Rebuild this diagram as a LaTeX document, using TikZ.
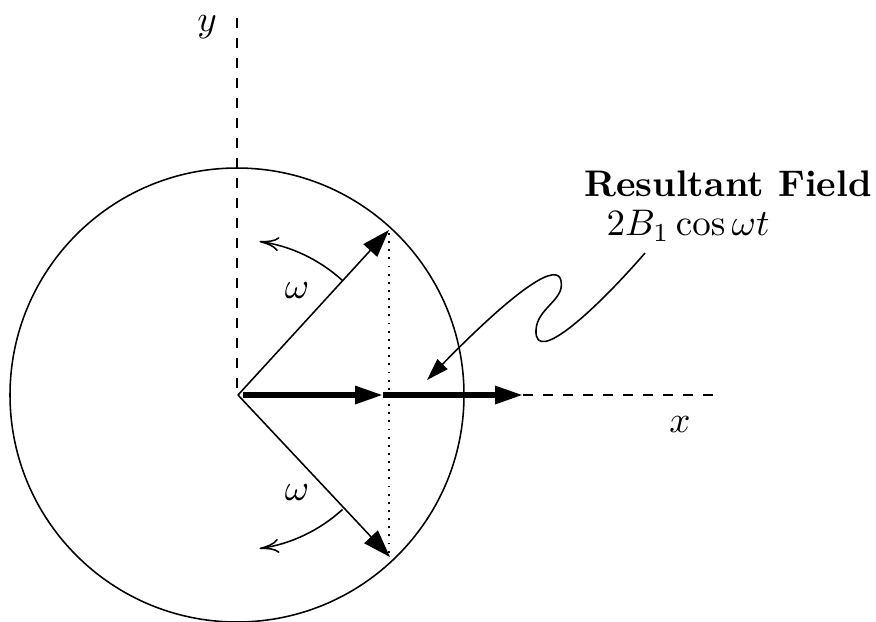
\documentclass[tikz,border=0pt]{standalone}
\usetikzlibrary{arrows.meta}
\begin{document}
\begin{tikzpicture}[x=0.27pt,y=-0.27pt,
  thinline/.style={line width=0.42pt},
  axisline/.style={line width=0.42pt,dash pattern=on 2.7pt off 2.7pt},
  dotline/.style={line width=0.5pt,dash pattern=on 0.5pt off 1.7pt},
  vec/.style={line width=0.42pt,-{Triangle[length=7.5pt,width=5pt]}},
  thickvec/.style={line width=1.5pt,-{Triangle[length=7.5pt,width=4.6pt]}},
  rot/.style={line width=0.42pt,-{Computer Modern Rightarrow[length=5.2pt,width=3.8pt]}},
  lbl/.style={inner sep=0pt}]
\useasboundingbox (0,0) rectangle (876,621);
% key points
\coordinate (O) at (238,395);
\coordinate (Ytop) at (237,18);
\coordinate (Ybot) at (237,392);
\coordinate (A) at (389,230);
\coordinate (B) at (390,557);
\coordinate (M) at (383,395);
\coordinate (R) at (523,395);
\coordinate (Xend) at (715,395);
\coordinate (S0) at (645,253);
\coordinate (Stip) at (427,380);
% circle
\draw[thinline] (237,395) circle[radius=227];
% axes
\draw[axisline] (Ytop) -- (Ybot);
\draw[axisline] (R) -- (Xend);
% dotted projection
\draw[dotline] (389,233) -- (389,557);
% rotating vectors
\draw[vec] (O) -- (A);
\draw[vec] (O) -- (B);
% resultant
\draw[thickvec] (243,395) -- (M);
\draw[thickvec] (M) -- (R);
% rotation arcs
\draw[rot] (O) ++(-47.6:155) arc[start angle=-47.6,end angle=-82,radius=155];
\draw[rot] (O) ++(47.6:155) arc[start angle=47.6,end angle=82,radius=155];
% labels
\node[lbl] (ylab) at (207,27) {$y$};
\node[lbl] (xlab) at (680,425) {$x$};
\node[lbl] (w1) at (297,291) {$\omega$};
\node[lbl] (w2) at (297,493) {$\omega$};
\node[lbl] (title) at (728,184) {\textbf{Resultant Field}};
\node[lbl] (expr) at (688,226) {$2B_1\cos\omega t$};
% wavy pointer
\draw[thinline,-{Triangle[length=6pt,width=3.8pt]}] (S0)
  .. controls (600,305) and (534,368) .. (536,330)
  .. controls (537,308) and (565,300) .. (561,281)
  .. controls (558,262) and (520,285) .. (Stip);
\end{tikzpicture}
\end{document}
